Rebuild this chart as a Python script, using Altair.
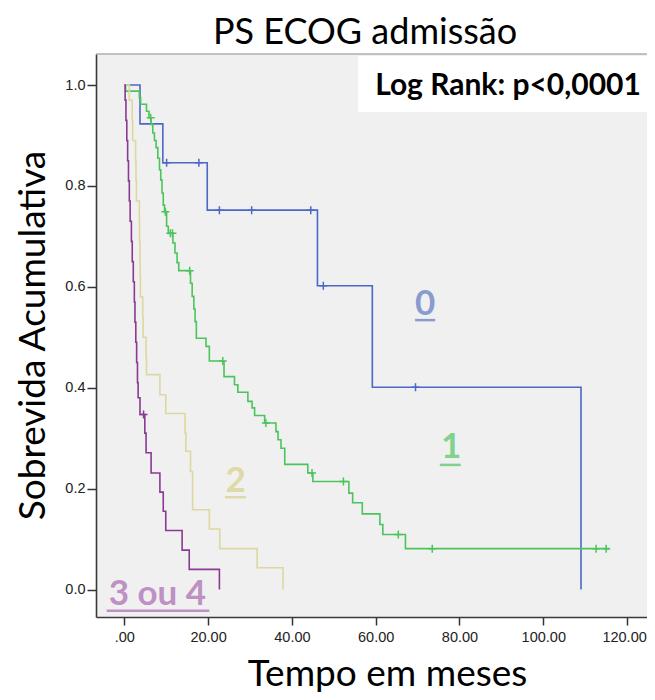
import altair as alt
import pandas as pd

# ---- data (time in months, cumulative survival) ----
groups = ["0", "1", "2", "3 ou 4"]
line_colors = ["#4a68c8", "#4cc45c", "#dcd8a0", "#8a3a93"]
label_colors = ["#8a9bd0", "#80d28c", "#dedaa8", "#bf90c4"]

blue_t = [0, 3.75, 9.2, 19.8, 46.1, 59.2, 109.0]
blue_s = [1.0, 0.923, 0.846, 0.752, 0.602, 0.401, 0.0]
blue_ct = [10.1, 17.8, 22.7, 30.4, 44.5, 47.5, 69.5]
blue_cs = [0.846, 0.846, 0.752, 0.752, 0.752, 0.602, 0.401]

green_t = [0, 0.3, 3.6, 3.9, 5.3, 5.9, 6.4, 6.8, 7.2, 7.6, 8.0, 8.4, 8.7, 9.0, 9.3,
           9.6, 10.1, 10.5, 11.6, 12.1, 12.6, 13.0, 15.8, 16.2, 16.6, 16.9, 17.2,
           19.5, 20.3, 23.8, 26.3, 27.1, 29.5, 30.5, 31.1, 33.5, 36.2, 36.7, 37.4,
           38.3, 43.8, 45.0, 53.6, 54.5, 56.8, 61.0, 61.7, 67.1, 115.8]
green_s = [1.0, 0.988, 0.975, 0.962, 0.948, 0.935, 0.922, 0.905, 0.890, 0.876, 0.855,
           0.832, 0.812, 0.786, 0.762, 0.749, 0.72, 0.706, 0.687, 0.667, 0.648, 0.632,
           0.607, 0.581, 0.556, 0.531, 0.498, 0.482, 0.453, 0.422, 0.406, 0.391, 0.373,
           0.36, 0.345, 0.33, 0.313, 0.297, 0.28, 0.248, 0.231, 0.214, 0.191, 0.172,
           0.15, 0.129, 0.109, 0.081, 0.081]
green_ct = [6.3, 9.8, 11.0, 11.5, 15.6, 23.5, 33.8, 44.8, 52.3, 65.4, 73.5, 112.6, 115.0]
green_cs = [0.935, 0.749, 0.706, 0.706, 0.632, 0.453, 0.33, 0.231, 0.214, 0.109, 0.081,
            0.081, 0.081]

yellow_t = [0, 1.2, 1.9, 2.0, 2.7, 2.8, 2.9, 3.6, 3.65, 3.75, 3.8, 3.85, 4.4, 4.5, 5.2,
            5.3, 8.5, 9.9, 14.5, 14.7, 15.8, 16.3, 20.3, 22.8, 31.7, 37.9]
yellow_s = [1.0, 0.97, 0.93, 0.89, 0.85, 0.81, 0.77, 0.73, 0.69, 0.65, 0.62, 0.58, 0.54,
            0.50, 0.46, 0.426, 0.386, 0.349, 0.31, 0.274, 0.234, 0.158, 0.12, 0.081,
            0.043, 0.0]
yellow_ct = []
yellow_cs = []

purple_t = [0, 0.2, 0.4, 0.6, 0.8, 1.0, 1.2, 1.4, 1.7, 1.9, 2.15, 2.4, 2.55, 2.75, 2.95,
            3.15, 3.3, 3.75, 4.9, 5.2, 6.4, 8.5, 9.3, 9.9, 13.8, 15.5, 22.7]
purple_s = [1.0, 0.97, 0.93, 0.89, 0.85, 0.81, 0.77, 0.73, 0.69, 0.65, 0.61, 0.57, 0.53,
            0.49, 0.45, 0.41, 0.38, 0.347, 0.31, 0.271, 0.231, 0.193, 0.155, 0.117,
            0.078, 0.04, 0.0]
purple_ct = [4.6]
purple_cs = [0.347]

x_ticks = [0, 20, 40, 60, 80, 100, 120]
y_ticks = [0.0, 0.2, 0.4, 0.6, 0.8, 1.0]

# group label annotations: text, centre time, baseline survival, underline start/end/level
ann_text = ["0", "1", "2", "3 ou 4"]
ann_t = [71.8, 78.0, 26.6, 7.9]
ann_s = [0.544, 0.260, 0.194, -0.031]
ann_u1 = [69.4, 75.3, 24.0, -4.2]
ann_u2 = [74.2, 80.3, 29.0, 20.3]
ann_us = [0.534, 0.247, 0.183, -0.042]

# ---- tables ----
curves = [(blue_t, blue_s), (green_t, green_s), (yellow_t, yellow_s), (purple_t, purple_s)]
cens = [(blue_ct, blue_cs), (green_ct, green_cs), (yellow_ct, yellow_cs), (purple_ct, purple_cs)]

rows = []
for g, (ts, ss) in zip(groups, curves):
    for i, (t, s) in enumerate(zip(ts, ss)):
        rows.append({"grupo": g, "t": t, "s": s, "i": i})
df_lines = pd.DataFrame(rows)

crow = []
for g, (ts, ss) in zip(groups, cens):
    for t, s in zip(ts, ss):
        crow.append({"grupo": g, "t": t, "s": s})
df_cens = pd.DataFrame(crow)

df_ann = pd.DataFrame({"txt": ann_text, "t": ann_t, "s": ann_s, "u1": ann_u1,
                       "u2": ann_u2, "us": ann_us, "col": label_colors})

W, H = 551, 563
XDOM = [-6.75, 124.75]
YDOM = [-0.0545, 1.0615]

xscale = alt.Scale(domain=XDOM, nice=False, zero=False)
yscale = alt.Scale(domain=YDOM, nice=False, zero=False)
cscale = alt.Scale(domain=groups, range=line_colors)

x_axis = alt.Axis(
    values=x_ticks,
    labelExpr="datum.value == 0 ? '.00' : format(datum.value, '.2f')",
    labelOffset={"condition": {"test": "datum.value == 120", "value": -3}, "value": 0},
    grid=False, domain=True, domainColor="#3a3a3a", domainWidth=1.6,
    ticks=True, tickSize=8, tickColor="#333", tickWidth=1.5,
    labelFont="Liberation Sans", labelFontSize=14.5, labelColor="#222", labelPadding=5,
    title="Tempo em meses", titleFont="Lato", titleFontSize=37, titleFontWeight="normal",
    titleColor="#000", titleX=291, titleY=68, titleBaseline="alphabetic", titleAlign="center",
)
y_axis = alt.Axis(
    values=y_ticks, format=".1f",
    grid=False, domain=True, domainColor="#3a3a3a", domainWidth=1.6,
    ticks=True, tickSize=9, tickColor="#333", tickWidth=1.5,
    labelFont="Liberation Sans", labelFontSize=14.5, labelColor="#222", labelPadding=2,
    title="Sobrevida Acumulativa", titleFont="Lato", titleFontSize=37,
    titleFontWeight="normal", titleColor="#000", titleAngle=270, titleX=-52, titleY=281,
    titleBaseline="alphabetic", titleAlign="center",
)

lines = alt.Chart(df_lines).mark_line(interpolate="step-after", strokeWidth=1.6).encode(
    x=alt.X("t:Q", scale=xscale, axis=x_axis),
    y=alt.Y("s:Q", scale=yscale, axis=y_axis),
    color=alt.Color("grupo:N", scale=cscale, legend=None),
    detail="grupo:N",
    order="i:Q",
)

marks = alt.Chart(df_cens).mark_point(
    shape="M-1,0L1,0M0,-1L0,1", filled=False, size=64, strokeWidth=1.5, opacity=1
).encode(
    x=alt.X("t:Q", scale=xscale),
    y=alt.Y("s:Q", scale=yscale),
    color=alt.Color("grupo:N", scale=cscale, legend=None),
)

labels = alt.Chart(df_ann).mark_text(
    font="Lato", fontWeight="bold", fontSize=35, align="center", baseline="alphabetic"
).encode(
    x=alt.X("t:Q", scale=xscale),
    y=alt.Y("s:Q", scale=yscale),
    text="txt:N",
    color=alt.Color("col:N", scale=None),
)

underlines = alt.Chart(df_ann).mark_rule(strokeWidth=2.5).encode(
    x=alt.X("u1:Q", scale=xscale),
    x2="u2:Q",
    y=alt.Y("us:Q", scale=yscale),
    color=alt.Color("col:N", scale=None),
)

one = pd.DataFrame({"k": [0]})
top_line = alt.Chart(one).mark_rule(color="#8a8a8a", strokeWidth=1.2).encode(
    x=alt.value(0), x2=alt.value(W), y=alt.value(0)
)
box = alt.Chart(one).mark_rect(fill="white").encode(
    x=alt.value(262), x2=alt.value(W), y=alt.value(2), y2=alt.value(58)
)
logrank = alt.Chart(one).mark_text(
    text="Log Rank: p<0,0001", font="Lato", fontWeight="bold", fontSize=30,
    align="center", baseline="alphabetic", color="#000"
).encode(x=alt.value(412), y=alt.value(41))

title = alt.Chart(one).mark_text(
    text="PS ECOG admissão", font="Lato", fontSize=36, align="center",
    baseline="alphabetic", color="#000"
).encode(x=alt.value(269), y=alt.value(-10))

chart = alt.layer(lines, marks, underlines, labels, top_line, box, logrank, title).properties(
    width=W, height=H,
    autosize=alt.AutoSizeParams(type="none"),
    padding={"left": 88, "top": 46, "right": 0, "bottom": 75},
    background="white",
).configure_view(fill="#f0f0f0", strokeWidth=0)

chart.save("out.html", embed_options={"renderer": "svg", "actions": False})
